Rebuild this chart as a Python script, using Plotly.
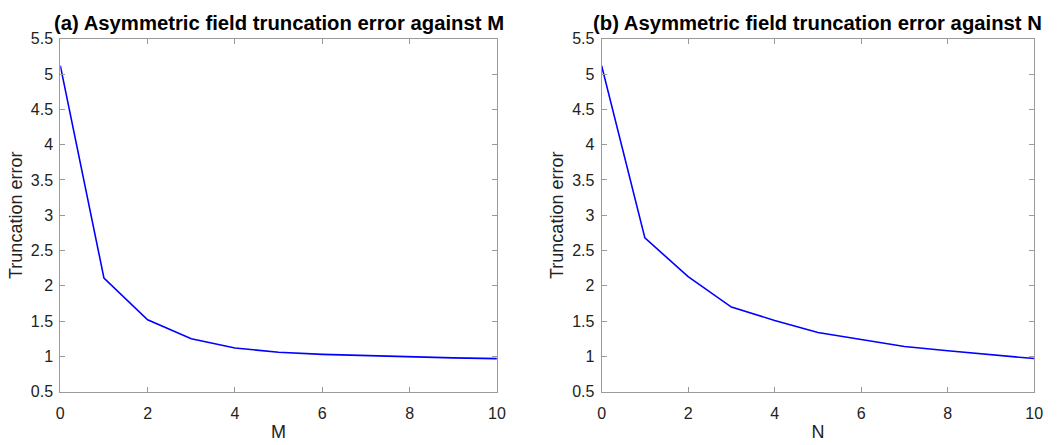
import plotly.graph_objects as go

# Truncation error of the asymmetric field against the truncation orders
m_vals = [0, 1, 2, 3, 4, 5, 6, 7, 8, 9, 10]
err_m = [5.12, 2.11, 1.52, 1.25, 1.12, 1.06, 1.03, 1.01, 0.99, 0.98, 0.97]

n_vals = [0, 1, 2, 3, 4, 5, 6, 7, 8, 9, 10]
err_n = [5.12, 2.68, 2.13, 1.70, 1.51, 1.34, 1.24, 1.14, 1.08, 1.02, 0.97]

x_ticks = [0, 2, 4, 6, 8, 10]
y_ticks = [0.5, 1, 1.5, 2, 2.5, 3, 3.5, 4, 4.5, 5, 5.5]

FONT = "Liberation Sans"
W, H = 1064, 445
AXIS_GREY = "#9a9a9a"

fig = go.Figure()
fig.add_trace(go.Scatter(x=m_vals, y=err_m, mode="lines",
                         line=dict(color="#0000ff", width=1.6),
                         xaxis="x", yaxis="y", showlegend=False))
fig.add_trace(go.Scatter(x=n_vals, y=err_n, mode="lines",
                         line=dict(color="#0000ff", width=1.6),
                         xaxis="x2", yaxis="y2", showlegend=False))

y_dom = [(H - 399) / H, (H - 32) / H]
left_dom = [57 / W, 499 / W]
right_dom = [605 / W, 1043 / W]

common_x = dict(range=[0, 10], tickvals=x_ticks, ticks="inside", ticklen=5,
                tickcolor=AXIS_GREY, showline=True, linecolor=AXIS_GREY,
                linewidth=1, mirror="ticks", showgrid=False, zeroline=False,
                tickfont=dict(family=FONT, size=16, color="#222"),
                ticklabelstandoff=7,
                title_font=dict(family=FONT, size=18, color="#222"),
                title_standoff=4)
common_y = dict(range=[0.5, 5.5], tickvals=y_ticks,
                ticktext=[f"{v:g}" for v in y_ticks], ticks="inside",
                ticklen=5, tickcolor=AXIS_GREY, showline=True,
                linecolor=AXIS_GREY, linewidth=1, mirror="ticks",
                showgrid=False, zeroline=False,
                tickfont=dict(family=FONT, size=16, color="#222"),
                ticklabelstandoff=3,
                title_font=dict(family=FONT, size=18, color="#222"),
                title_standoff=3)

fig.update_layout(
    width=W, height=H,
    margin=dict(l=0, r=0, t=0, b=0),
    paper_bgcolor="white", plot_bgcolor="white",
    xaxis=dict(domain=left_dom, anchor="y", title_text="M", **common_x),
    yaxis=dict(domain=y_dom, anchor="x", title_text="Truncation error", **common_y),
    xaxis2=dict(domain=right_dom, anchor="y2", title_text="N", **common_x),
    yaxis2=dict(domain=y_dom, anchor="x2", title_text="Truncation error", **common_y),
    annotations=[
        dict(text="<b>(a) Asymmetric field truncation error against M</b>",
             x=(left_dom[0] + left_dom[1]) / 2, y=1 - 16 / H,
             xref="paper", yref="paper", xanchor="center", yanchor="middle",
             showarrow=False,
             font=dict(family=FONT, size=20.3, color="black")),
        dict(text="<b>(b) Asymmetric field truncation error against N</b>",
             x=(right_dom[0] + right_dom[1]) / 2, y=1 - 16 / H,
             xref="paper", yref="paper", xanchor="center", yanchor="middle",
             showarrow=False,
             font=dict(family=FONT, size=20.3, color="black")),
    ],
)

fig.write_html("out.html")
